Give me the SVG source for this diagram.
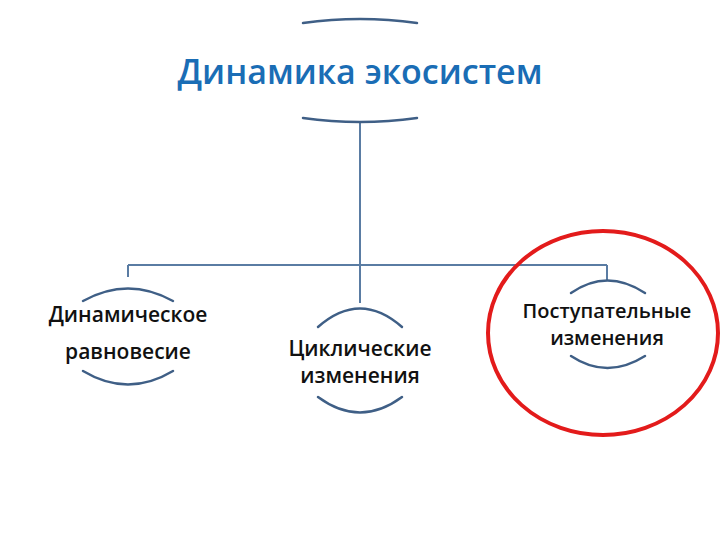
<svg xmlns="http://www.w3.org/2000/svg" width="720" height="540" viewBox="0 0 720 540">
<style>
.arc{fill:none;stroke:#3f5f86;stroke-width:2.5;stroke-linecap:round}
.con{fill:none;stroke:#5a7ca3;stroke-width:2}
.t{font-family:"Open Sans","Liberation Sans",sans-serif;fill:#111;text-anchor:middle;font-size:21px;font-weight:600}
.title{font-family:"Open Sans","Liberation Sans",sans-serif;fill:#1a6db5;text-anchor:middle;font-size:34px;font-weight:600}
</style>
<rect width="720" height="540" fill="#fff"/>
<g id="connectors">
<path class="con" d="M360,122 V265 M128,265 H607 M128,265 V277 M360,265 V303 M607,265 V280"/>
</g>
<g id="title">
<path class="arc" d="M303,23 Q360,15 417,23"/>
<text class="title" x="360" y="84">Динамика экосистем</text>
<path class="arc" d="M303,118 Q360,126 417,118"/>
</g>
<g id="node-left">
<path class="arc" d="M83,301 Q128,276 173,301"/>
<text class="t" x="128" y="322">Динамическое</text>
<text class="t" x="128" y="359">равновесие</text>
<path class="arc" d="M83,371 Q128,398 173,371"/>
</g>
<g id="node-middle">
<path class="arc" d="M318,327 Q360,290 402,327"/>
<text class="t" x="360" y="356">Циклические</text>
<text class="t" x="360" y="383">изменения</text>
<path class="arc" d="M318,397 Q360,428 402,397"/>
</g>
<g id="node-right">
<path class="arc" d="M571,293 Q607,268 645,293"/>
<text class="t" x="607" y="318" style="font-size:20px">Поступательные</text>
<text class="t" x="607" y="345" style="font-size:20px">изменения</text>
<path class="arc" d="M571,356 Q607,380 645,356"/>
<ellipse cx="603" cy="333" rx="115" ry="102" fill="none" stroke="#e31b1b" stroke-width="4"/>
</g>
</svg>
